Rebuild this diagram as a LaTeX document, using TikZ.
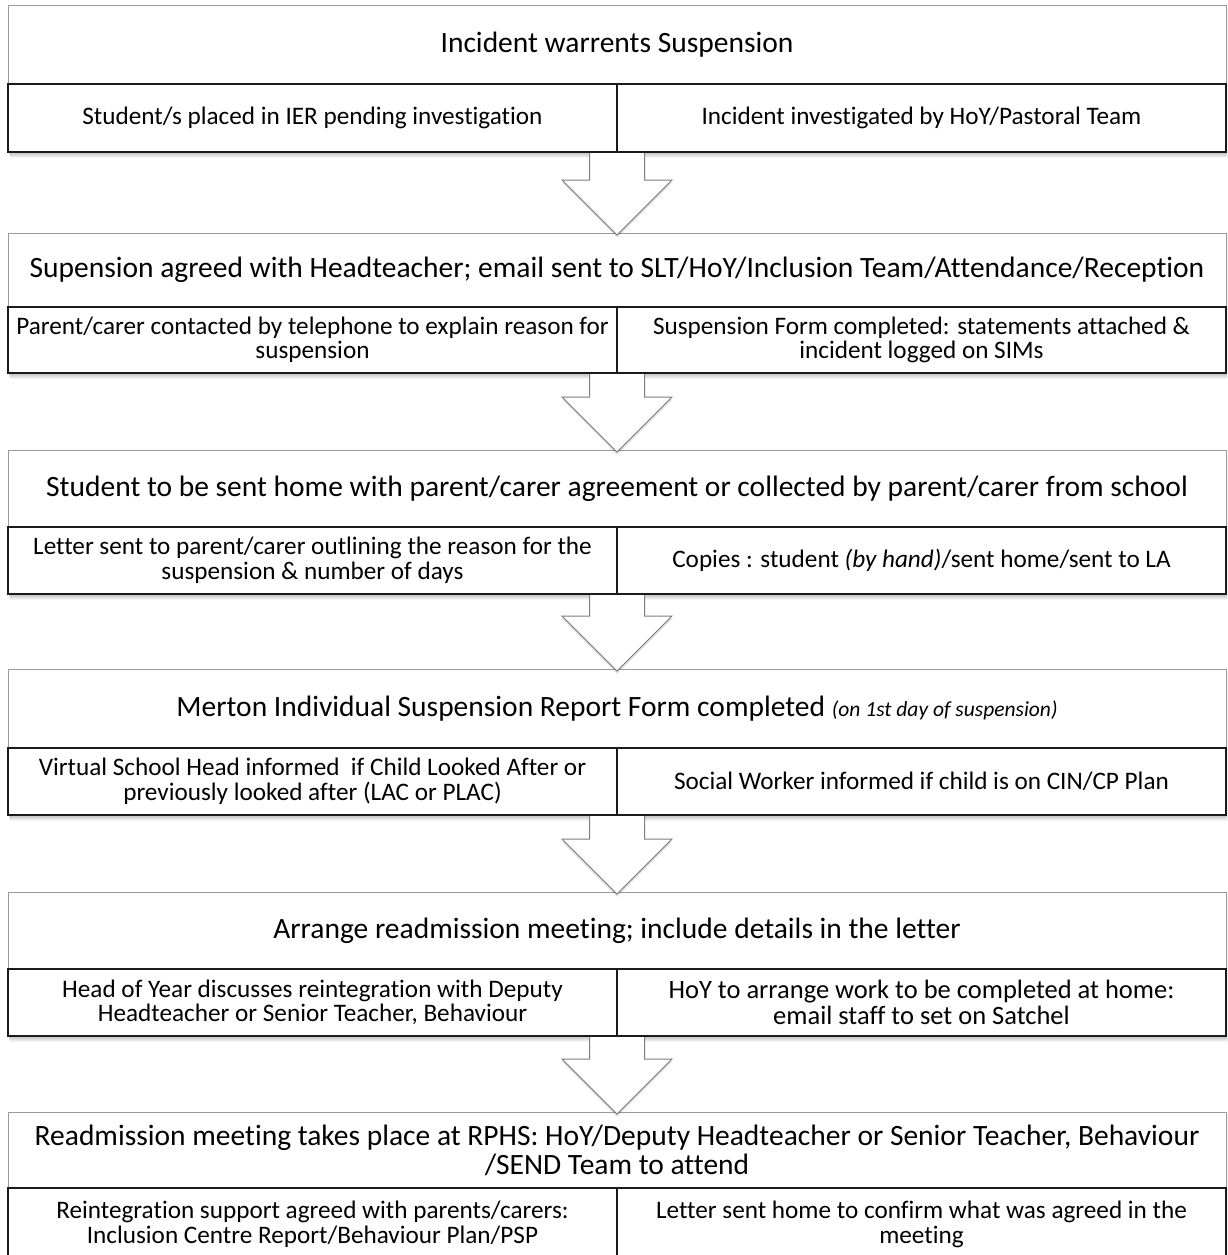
\documentclass[tikz,border=0pt]{standalone}
\usepackage{fontspec}
\setmainfont{Carlito}[Ligatures={NoCommon}]
\usetikzlibrary{calc}
\definecolor{boxgray}{HTML}{9A9A9A}
\definecolor{arrowgray}{HTML}{7F7F7F}
\definecolor{inkblack}{HTML}{1A1A1A}
\tikzset{
  outerbox/.style={draw=boxgray, line width=1pt, fill=white, inner sep=0pt, minimum width=1218pt},
  cellbox/.style={draw=inkblack, line width=2pt, inner sep=0pt, minimum width=609pt,
                  font=\fontsize{25.2}{24.5}\selectfont, align=center, text=black},
  bigcell/.style={font=\fontsize{26.5}{26}\selectfont},
  headtxt/.style={font=\fontsize{29.5}{29}\selectfont, align=center, inner sep=0pt, text=black},
  arrowbody/.style={draw=arrowgray, line width=1pt, fill=white, line join=miter},
  arrowshade/.style={fill=black, opacity=0.07},
}
% #1 style of right cell, #2 name, #3 top, #4 inner top, #5 bottom, #6 header, #7 left, #8 right
\newcommand\flowblock[8][]{%
  \foreach \k in {1,...,6}
    \fill[black,opacity=0.045] (8+0.25*\k,#3+2) rectangle (1226+0.25*\k,#5+\k);
  \node[outerbox, minimum height={(#5-#3)*1pt}] (#2) at (617,{(#3+#5)/2}) {};
  \node[headtxt] (#2h) at (617,{(#3+#4)/2}) {#6};
  \node[cellbox, minimum height={(#5-#4)*1pt}] (#2l) at (312.5,{(#4+#5)/2}) {#7};
  \node[cellbox, minimum height={(#5-#4)*1pt}, #1] (#2r) at (921.5,{(#4+#5)/2}) {#8};
}
% block arrow from node #1 to node #2
\newcommand\blockarrow[2]{%
  \foreach \s in {1,2,3}
    \fill[arrowshade] let \p1=(#1.south), \p2=(#2.north) in
      (\x1-27.5pt,\y1-0.5pt-\s pt) -- (\x1-27.5pt,\y2+52.5pt-\s pt) -- (\x1-55pt,\y2+52.5pt-\s pt)
      -- (\x1,\y2-2.5pt-\s pt) -- (\x1+55pt,\y2+52.5pt-\s pt) -- (\x1+27.5pt,\y2+52.5pt-\s pt)
      -- (\x1+27.5pt,\y1-0.5pt-\s pt) -- cycle;
  \filldraw[arrowbody] let \p1=(#1.south), \p2=(#2.north) in
      (\x1-27.5pt,\y1-0.5pt) -- (\x1-27.5pt,\y2+52.5pt) -- (\x1-55pt,\y2+52.5pt)
      -- (\x1,\y2-2.5pt) -- (\x1+55pt,\y2+52.5pt) -- (\x1+27.5pt,\y2+52.5pt)
      -- (\x1+27.5pt,\y1-0.5pt);
}
\begin{document}
\begin{tikzpicture}[x=1pt,y=-1pt]
\useasboundingbox[fill=white] (0,0) rectangle (1227,1255);

\flowblock{b1}{6}{84}{152}
  {Incident warrents Suspension}
  {Student/s placed in IER pending investigation}
  {Incident investigated by HoY/Pastoral Team}

\flowblock{b2}{233}{307}{373}
  {Supension agreed with Headteacher; email sent to SLT/HoY/Inclusion Team/Attendance/Reception}
  {Parent/carer contacted by telephone to explain reason for\\ suspension}
  {Suspension Form completed: statements attached \&\\ incident logged on SIMs}
\blockarrow{b1}{b2}

\flowblock{b3}{450}{527}{594}
  {Student to be sent home with parent/carer agreement or collected by parent/carer from school}
  {Letter sent to parent/carer outlining the reason for the\\ suspension \& number of days}
  {Copies : student \textit{(by hand)}/sent home/sent to LA}
\blockarrow{b2}{b3}

\flowblock{b4}{669}{748}{815}
  {Merton Individual Suspension Report Form completed {\fontsize{21.5}{22}\selectfont\itshape (on 1st day of suspension)}}
  {Virtual School Head informed~ if Child Looked After or\\ previously looked after (LAC or PLAC)}
  {Social Worker informed if child is on CIN/CP Plan}
\blockarrow{b3}{b4}

\flowblock[bigcell]{b5}{892}{969}{1036}
  {Arrange readmission meeting; include details in the letter}
  {Head of Year discusses reintegration with Deputy\\ Headteacher or Senior Teacher, Behaviour}
  {HoY to arrange work to be completed at home:\\ email staff to set on Satchel}
\blockarrow{b4}{b5}

\flowblock{b6}{1112}{1188}{1261}
  {Readmission meeting takes place at RPHS: HoY/Deputy Headteacher or Senior Teacher, Behaviour\\ /SEND Team to attend}
  {Reintegration support agreed with parents/carers:\\ Inclusion Centre Report/Behaviour Plan/PSP}
  {Letter sent home to confirm what was agreed in the\\ meeting}
\blockarrow{b5}{b6}
\end{tikzpicture}
\end{document}
